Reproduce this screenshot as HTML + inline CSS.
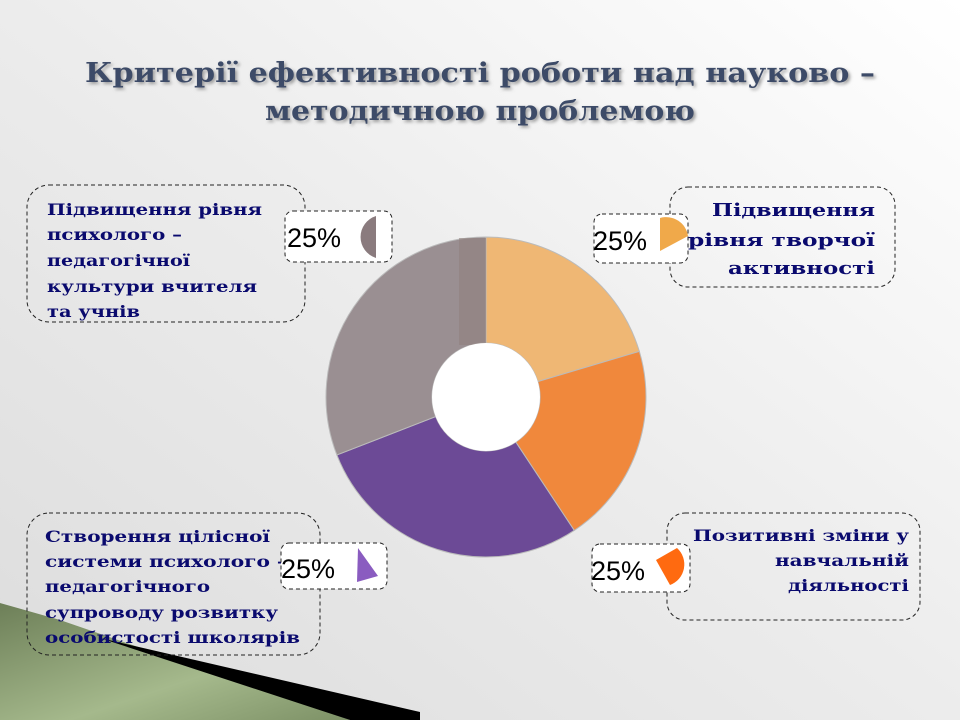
<!DOCTYPE html>
<html><head><meta charset="utf-8"><style>
html,body{margin:0;padding:0;width:960px;height:720px;overflow:hidden}
svg{display:block}
.t{font-family:"DejaVu Serif","Liberation Serif",serif;font-weight:bold;fill:#0a0a6e}
.p{font-family:"Liberation Sans",sans-serif;font-size:27px;fill:#000}
</style></head><body>
<svg id="s" width="960" height="720" viewBox="0 0 960 720" xmlns="http://www.w3.org/2000/svg">
<defs>
<linearGradient id="bg" x1="1" y1="0" x2="0" y2="1"><stop offset="0" stop-color="#ffffff"/><stop offset="0.5" stop-color="#ececec"/><stop offset="1" stop-color="#dcdcdc"/></linearGradient>
<linearGradient id="gr" x1="0" y1="0" x2="1" y2="1"><stop offset="0" stop-color="#6d7f58"/><stop offset="0.6" stop-color="#a5b98c"/><stop offset="1" stop-color="#7d9166"/></linearGradient>
<filter id="sh"><feDropShadow dx="2" dy="2" stdDeviation="1.5" flood-color="#888" flood-opacity="0.8"/></filter>
</defs>
<rect width="960" height="720" fill="url(#bg)"/>
<polygon points="0,603 60,620 350,720 0,720" fill="url(#gr)"/>
<polygon points="100,638 420,712 420,720 350,720" fill="#000"/>
<g filter="url(#sh)" font-family="DejaVu Serif,Liberation Serif,serif" font-weight="bold" font-size="27" fill="#3d4c68">
<text x="85" y="82" textLength="790" lengthAdjust="spacingAndGlyphs">Критерії ефективності роботи над науково –</text>
<text x="265" y="120" textLength="430" lengthAdjust="spacingAndGlyphs">методичною проблемою</text>
</g>
<g id="donut"></g>
<rect x="459" y="238" width="27" height="107" fill="#8f7f7c" opacity="0.55"/>
<circle cx="486" cy="397" r="54" fill="#fff"/>

<rect x="27" y="185" width="278" height="137" rx="22" fill="none" stroke="#222" stroke-dasharray="4,3"/>
<g class="t" font-size="16">
<text x="47" y="215" textLength="215" lengthAdjust="spacingAndGlyphs">Підвищення рівня</text><text x="47" y="240" textLength="135" lengthAdjust="spacingAndGlyphs">психолого –</text><text x="47" y="266" textLength="143" lengthAdjust="spacingAndGlyphs">педагогічної</text><text x="47" y="292" textLength="210" lengthAdjust="spacingAndGlyphs">культури вчителя</text><text x="47" y="317" textLength="93" lengthAdjust="spacingAndGlyphs">та учнів</text></g>
<rect x="285" y="211" width="107" height="51" rx="8" fill="#fff" stroke="#222" stroke-dasharray="4,3"/>
<text class="p" x="287" y="247">25%</text>
<path d="M376,216 A22,22 0 0 0 376,258 Z" fill="#8a7b7e"/>

<rect x="670" y="187" width="225" height="100" rx="18" fill="none" stroke="#222" stroke-dasharray="4,3"/>
<rect x="594" y="214" width="94" height="49" rx="8" fill="#fff" stroke="#222" stroke-dasharray="4,3"/>
<text class="p" x="593" y="250">25%</text>
<path d="M660,218 A22,22 0 0 1 688,236 L660,251 Z" fill="#f0a94a"/>
<g class="t" font-size="18">
<text x="712" y="216" textLength="163" lengthAdjust="spacingAndGlyphs">Підвищення</text><text x="688" y="246" textLength="187" lengthAdjust="spacingAndGlyphs">рівня творчої</text><text x="728" y="274" textLength="147" lengthAdjust="spacingAndGlyphs">активності</text></g>

<rect x="27" y="513" width="293" height="142" rx="22" fill="none" stroke="#222" stroke-dasharray="4,3"/>
<g class="t" font-size="16">
<text x="45" y="542" textLength="225" lengthAdjust="spacingAndGlyphs">Створення цілісної</text><text x="45" y="567" textLength="242" lengthAdjust="spacingAndGlyphs">системи психолого –</text><text x="45" y="592" textLength="165" lengthAdjust="spacingAndGlyphs">педагогічного</text><text x="45" y="618" textLength="233" lengthAdjust="spacingAndGlyphs">супроводу розвитку</text><text x="45" y="643" textLength="255" lengthAdjust="spacingAndGlyphs">особистості школярів</text></g>
<rect x="281" y="543" width="106" height="46" rx="8" fill="#fff" stroke="#222" stroke-dasharray="4,3"/>
<text class="p" x="281" y="578">25%</text>
<path d="M358,548 L378,576 L357,582 Z" fill="#8a5cc0"/>

<rect x="667" y="513" width="253" height="107" rx="18" fill="none" stroke="#222" stroke-dasharray="4,3"/>
<g class="t" font-size="16">
<text x="693" y="541" textLength="216" lengthAdjust="spacingAndGlyphs">Позитивні зміни у</text><text x="775" y="566" textLength="134" lengthAdjust="spacingAndGlyphs">навчальній</text><text x="788" y="591" textLength="121" lengthAdjust="spacingAndGlyphs">діяльності</text></g>
<rect x="592" y="544" width="98" height="48" rx="8" fill="#fff" stroke="#222" stroke-dasharray="4,3"/>
<text class="p" x="591" y="580">25%</text>
<path d="M656,560 L677,548 A22,22 0 0 1 670,585 Z" fill="#ff6a10"/>
</svg>
<script>
const categories=["Підвищення рівня творчої активності","Позитивні зміни у навчальній діяльності","Створення цілісної системи","Підвищення рівня культури"];
const values=[20.4,20.3,28.4,30.9];
const colors=["#efb774","#f0883c","#6c4a96","#9a8f92"];
const names=["slice-creative","slice-learning","slice-support","slice-culture"];
const cx=486,cy=397,R=160,r=54;
const g=document.getElementById('donut');
const total=values.reduce((a,b)=>a+b,0);
function pt(a,rad){return [cx+rad*Math.sin(a),cy-rad*Math.cos(a)];}
let a0=0;
values.forEach((v,i)=>{
 const a1=a0+v/total*2*Math.PI;
 const big=(a1-a0)>Math.PI?1:0;
 const p1=pt(a0,R),p2=pt(a1,R),p3=pt(a1,r),p4=pt(a0,r);
 const p=document.createElementNS('http://www.w3.org/2000/svg','path');
 p.setAttribute('d',`M${p1} A${R},${R} 0 ${big} 1 ${p2} L${p3} A${r},${r} 0 ${big} 0 ${p4} Z`);
 p.setAttribute('fill',colors[i]);
 p.setAttribute('stroke','#bbb');
 p.setAttribute('stroke-width','1');
 
 
 g.appendChild(p);
 a0=a1;
});
</script>
</body></html>
